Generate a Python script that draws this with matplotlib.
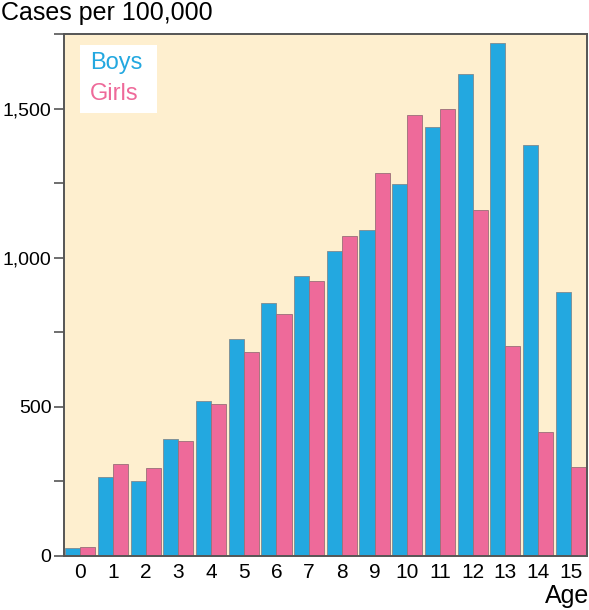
import numpy as np
from matplotlib import pyplot as plt

plt.rcParams['font.family'] = ['Liberation Sans', 'DejaVu Sans']

# Datos
ages = [str(a) for a in range(16)]
boys = [26, 265, 252, 392, 519, 728, 849, 940, 1023, 1094, 1246, 1439, 1616, 1719, 1377, 886]
girls = [30, 308, 295, 385, 510, 685, 812, 923, 1074, 1285, 1479, 1497, 1161, 705, 415, 300]

blue = '#23a8e0'
pink = '#ee6a9a'
fondo = '#feefcf'

fig = plt.figure(figsize=(5.89, 6.10), dpi=100)
ax = fig.add_axes([64/589, 54/610, 523/589, 522/610])
ax.set_facecolor(fondo)

x = np.arange(len(ages))
w = 0.46
ax.bar(x - w/2, boys, width=w, color=blue, edgecolor='#7d8a90', linewidth=0.6)
ax.bar(x + w/2, girls, width=w, color=pink, edgecolor='#9a6f78', linewidth=0.6)

ax.set_xlim(-0.5, 15.5)
ax.set_ylim(0, 1750)
ax.set_xticks(x)
ax.set_xticklabels(ages, fontsize=15)
ax.tick_params(axis='x', length=0, pad=5)
ax.set_yticks(range(0, 1751, 250))
ax.set_yticklabels(['0', '', '500', '', '1,000', '', '1,500', ''], fontsize=14)
ax.tick_params(axis='y', length=7, width=1.2, color='#555555', pad=2)

for s in ax.spines.values():
    s.set_color('#555555')
    s.set_linewidth(1.4)

# Leyenda como texto dentro de un recuadro blanco
fig.patches.append(plt.Rectangle((80/589, 1 - 113/610), 77/589, 68/610, transform=fig.transFigure,
                                 facecolor='white', edgecolor='none', zorder=5))
fig.text(90/589, 1 - 63/610, 'Boys', color=blue, fontsize=17, va='center', zorder=6)
fig.text(90/589, 1 - 94/610, 'Girls', color=pink, fontsize=17, va='center', zorder=6)

fig.text(1/589, 1 - 13/610, 'Cases per 100,000', fontsize=18, va='center')
fig.text(589/589, 1 - 596/610, 'Age', fontsize=18, va='center', ha='right')

fig.savefig('out.png', dpi=100)
